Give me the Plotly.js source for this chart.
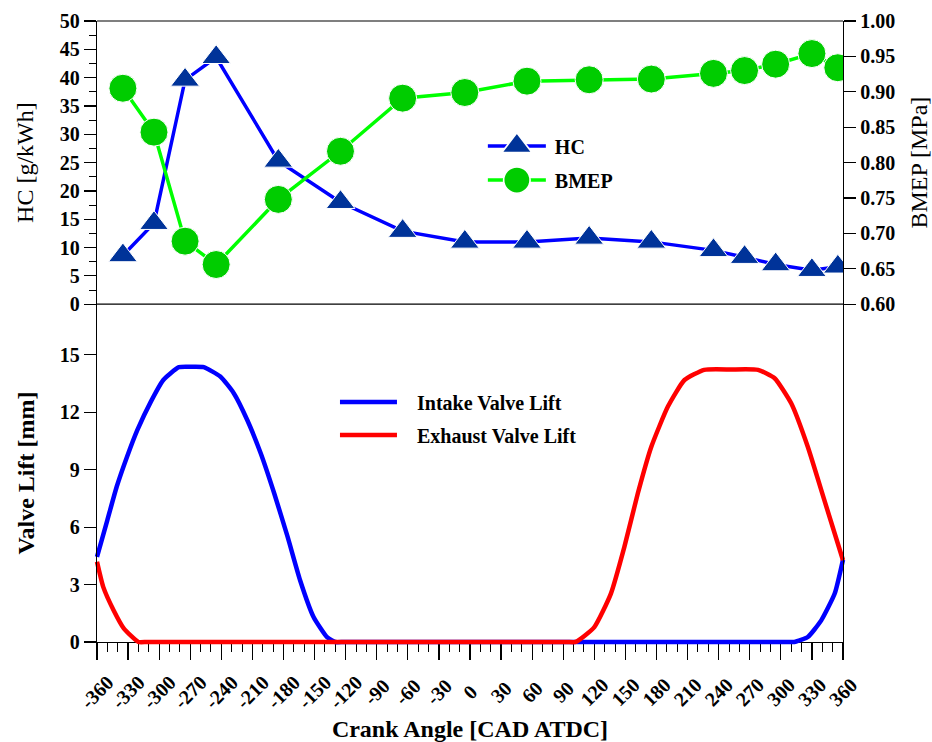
<!DOCTYPE html>
<html>
<head>
<meta charset="utf-8">
<script src="https://cdn.plot.ly/plotly-3.0.1.min.js"></script>
<style>
  html, body { margin: 0; padding: 0; background: #fff; }
  #chart { width: 932px; height: 742px; }
</style>
</head>
<body>
<div id="chart"></div>
<script>
// ---- Top panel: HC emissions and BMEP vs crank angle ----
const crankPts = [-335, -305, -275, -245, -185, -125, -65, -5, 55, 115, 175, 235, 265, 295, 330, 355];
const hcValues = [8.6, 14.3, 39.6, 43.6, 25.3, 18.0, 12.9, 11.0, 11.0, 11.7, 11.0, 9.5, 8.3, 7.0, 6.0, 6.6];
const bmepValues = [0.905, 0.843, 0.689, 0.656, 0.748, 0.816, 0.891, 0.899, 0.915, 0.917, 0.918, 0.926, 0.930, 0.939, 0.954, 0.934];

// ---- Bottom panel: valve lift profiles (0 while the valve is closed) ----
const intakeAngle = [-360, -350, -341, -331, -321, -308, -296, -281, -269, -257, -241, -228, -215, -202, -189, -176, -164, -151, -138, -130,
                     -122, -100, -50, 0, 50, 100, 150, 200, 250, 290, 305, 313, 326, 339, 352, 360];
const intakeLift  = [4.45, 6.37, 8.11, 9.68, 11.08, 12.56, 13.69, 14.36, 14.38, 14.36, 13.87, 13.0, 11.6, 9.86, 7.77, 5.49, 3.23, 1.31, 0.26, 0,
                     0, 0, 0, 0, 0, 0, 0, 0, 0, 0, 0, 0, 0.26, 1.13, 2.53, 4.3];
const exhaustAngle = [-360, -354, -344, -334, -320, -312, -290, -250, -200, -150, -100, -50, 0, 50, 80, 94,
                      102, 120, 136, 149, 162, 175, 191, 207, 226, 252, 278, 294, 310, 326, 342, 360];
const exhaustLift  = [4.19, 2.88, 1.66, 0.70, 0, 0, 0, 0, 0, 0, 0, 0, 0, 0, 0, 0,
                      0, 0.78, 2.53, 4.97, 7.77, 10.2, 12.3, 13.69, 14.22, 14.24, 14.22, 13.78, 12.47, 10.2, 7.41, 4.27];

const xTicks = [-360,-330,-300,-270,-240,-210,-180,-150,-120,-90,-60,-30,0,30,60,90,120,150,180,210,240,270,300,330,360];

const FONT = 'Liberation Serif, Times New Roman, serif';
const NB = '\u00a0\u00a0\u00a0';

const traces = [
  {
    x: crankPts, y: hcValues, name: 'HC', xaxis: 'x', yaxis: 'y2', legend: 'legend', legendgroup: 'a',
    mode: 'lines+markers',
    line: {color: '#0000FF', width: 3.5},
    marker: {symbol: 'triangle-up', size: 25, color: '#003399', line: {color: '#ffffff', width: 1}}
  },
  {
    x: crankPts, y: bmepValues, name: 'BMEP', xaxis: 'x', yaxis: 'y3', legend: 'legend', legendgroup: 'b',
    mode: 'lines+markers',
    line: {color: '#00FF00', width: 3.5},
    marker: {symbol: 'circle', size: 28, color: '#00CC00', line: {color: '#ffffff', width: 1}}
  },
  {
    x: intakeAngle, y: intakeLift, name: NB + 'Intake Valve Lift', xaxis: 'x', yaxis: 'y', legend: 'legend2', legendgroup: 'c',
    mode: 'lines', cliponaxis: false, line: {color: '#0000FF', width: 4.5, shape: 'spline', smoothing: 0.5}
  },
  {
    x: exhaustAngle, y: exhaustLift, name: NB + 'Exhaust Valve Lift', xaxis: 'x', yaxis: 'y', legend: 'legend2', legendgroup: 'd',
    mode: 'lines', cliponaxis: false, line: {color: '#FF0000', width: 4.5, shape: 'spline', smoothing: 0.5}
  }
];

const split = 0.544;

const layout = {
  width: 932, height: 742,
  margin: {l: 97, r: 89, t: 21, b: 100},
  paper_bgcolor: '#ffffff', plot_bgcolor: '#ffffff',
  font: {family: FONT, color: '#000', size: 20},
  showlegend: true,
  xaxis: {
    domain: [0, 1], anchor: 'y', range: [-360, 360],
    tickmode: 'array', tickvals: xTicks, ticktext: xTicks.map(String),
    tickangle: -45, ticks: 'outside', ticklen: 17, tickwidth: 1.2, tickcolor: '#000',
    minor: {dtick: 10, ticks: 'outside', ticklen: 9, tickwidth: 1, tickcolor: '#000'},
    showline: true, linecolor: '#000', linewidth: 1.2, layer: 'below traces',
    showgrid: false, zeroline: false,
    tickfont: {family: FONT, size: 20, weight: 'bold'},
    title: {text: '<b>Crank Angle [CAD ATDC]</b>', font: {family: FONT, size: 24}, standoff: 25}
  },
  yaxis: {
    domain: [0, split], anchor: 'x', range: [0, 17.65],
    tickmode: 'array', tickvals: [0, 3, 6, 9, 12, 15],
    ticks: 'outside', ticklen: 12, tickwidth: 1.2, tickcolor: '#000',
    showline: true, linecolor: '#000', linewidth: 1.2, mirror: true,
    showgrid: false, zeroline: false,
    tickfont: {family: FONT, size: 20, weight: 'bold'},
    title: {text: '<b>Valve Lift [mm]</b>', font: {family: FONT, size: 24}, standoff: 18}
  },
  yaxis2: {
    domain: [split, 1], anchor: 'x', range: [0, 50],
    dtick: 5, tick0: 0,
    ticks: 'outside', ticklen: 12, tickwidth: 1.2, tickcolor: '#000',
    minor: {dtick: 2.5, ticks: 'outside', ticklen: 7, tickwidth: 1, tickcolor: '#000'},
    showline: true, linecolor: '#000', linewidth: 1.2,
    showgrid: false, zeroline: false,
    tickfont: {family: FONT, size: 20, weight: 'bold'},
    title: {text: 'HC [g/kWh]', font: {family: FONT, size: 24}, standoff: 19}
  },
  yaxis3: {
    overlaying: 'y2', side: 'right', anchor: 'x', range: [0.6, 1.0],
    dtick: 0.05, tick0: 0.6, tickformat: '.2f',
    ticks: 'outside', ticklen: 12, tickwidth: 1.2, tickcolor: '#000',
    showline: true, linecolor: '#000', linewidth: 1.2,
    showgrid: false, zeroline: false,
    tickfont: {family: FONT, size: 20, weight: 'bold'},
    title: {text: 'BMEP [MPa]', font: {family: FONT, size: 24}, standoff: 19}
  },
  legend: {
    x: 0.536, y: 0.83, xanchor: 'left', yanchor: 'top',
    bgcolor: 'rgba(0,0,0,0)', borderwidth: 0,
    font: {family: FONT, size: 20, weight: 'bold'},
    tracegroupgap: 5, traceorder: 'grouped'
  },
  legend2: {
    x: 0.319, y: 0.418, xanchor: 'left', yanchor: 'top',
    bgcolor: 'rgba(0,0,0,0)', borderwidth: 0,
    font: {family: FONT, size: 20, weight: 'bold'},
    tracegroupgap: 4, traceorder: 'grouped', itemwidth: 57
  },
  shapes: [
    {type: 'line', xref: 'paper', yref: 'paper', x0: 0, x1: 1, y0: split, y1: split, line: {color: '#000', width: 1.2}},
    {type: 'line', xref: 'paper', yref: 'paper', x0: 0, x1: 1, y0: 1, y1: 1, line: {color: '#000', width: 1.2}}
  ]
};

const topNames = ['HC', 'BMEP'];

// enlarge the HC / BMEP legend symbols to the size used in the figure
function restyleTopLegend(gd) {
  gd.querySelectorAll('g.traces').forEach(function (g) {
    const t = g.querySelector('text.legendtext');
    if (!t || topNames.indexOf(t.textContent) < 0) return;
    const sb = g.closest('.scrollbox');
    if (sb) sb.removeAttribute('clip-path');
    g.querySelectorAll('path.js-line').forEach(function (p) { p.setAttribute('d', 'M-9,0h58'); });
    g.querySelectorAll('path.scatterpts').forEach(function (p) { p.setAttribute('transform', 'translate(20,0) scale(1.65)'); });
    const cur = t.getAttribute('x') || '0';
    if (t.getAttribute('data-shifted') === cur) return;
    const nx = String(parseFloat(cur) + 18);
    t.setAttribute('x', nx);
    t.setAttribute('data-shifted', nx);
  });
}

// rotated crank-angle labels are centred on their ticks in the figure
function centerXTickLabels(gd) {
  const fl = gd._fullLayout;
  const svgRect = gd.querySelector('.main-svg').getBoundingClientRect();
  gd.querySelectorAll('g.xtick text').forEach(function (t) {
    const val = parseFloat(t.textContent.replace('\u2212', '-'));
    if (isNaN(val)) return;
    const px = fl.xaxis.l2p(val) + fl._size.l;
    const r = t.getBoundingClientRect();
    const cx = r.left + r.width / 2 - svgRect.left;
    const cy = r.top + r.height / 2 - svgRect.top;
    const dx = px - cx, dy = 692 - cy;
    if (Math.abs(dx) < 0.3 && Math.abs(dy) < 0.3) return;
    t.setAttribute('transform', 'translate(' + dx.toFixed(2) + ',' + dy.toFixed(2) + ') ' + (t.getAttribute('transform') || ''));
  });
}

function finish(gd) {
  // let the valve-lift lines sitting on 0 show their full width
  gd.querySelectorAll('.cartesianlayer .subplot.xy [clip-path]').forEach(function (el) { el.removeAttribute('clip-path'); });
  restyleTopLegend(gd);
  centerXTickLabels(gd);
}

const gd = document.getElementById('chart');
Plotly.newPlot(gd, traces, layout, {displayModeBar: false, staticPlot: true}).then(function () {
  finish(gd);
  requestAnimationFrame(function () { finish(gd); });
  setTimeout(function () { finish(gd); }, 60);
  setTimeout(function () { finish(gd); }, 300);
});
</script>
</body>
</html>
